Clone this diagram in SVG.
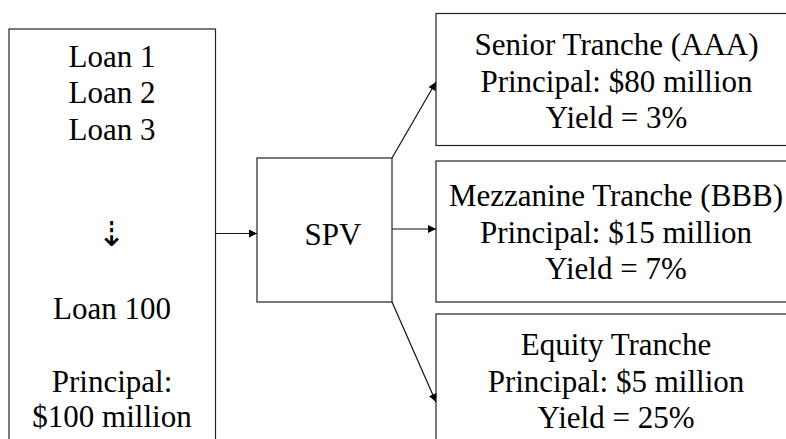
<svg xmlns="http://www.w3.org/2000/svg" width="786" height="439" viewBox="0 0 786 439">
  <defs>
    <marker id="ah" viewBox="0 0 10 10" refX="10" refY="5" markerWidth="10" markerHeight="8" markerUnits="userSpaceOnUse" orient="auto">
      <path d="M0,0 L10,5 L0,10 Z" fill="#000"/>
    </marker>
  </defs>
  <style>
    .box { fill: #fff; stroke: #222; stroke-width: 1.2; }
    .t { font-size: 31px; fill: #000; text-anchor: middle; }
    .edge { stroke: #111; stroke-width: 1.2; fill: none; marker-end: url(#ah); }
  </style>
  <rect width="786" height="439" fill="#fff"/>
  <g font-family="Liberation Serif, DejaVu Serif, serif">
  <g id="loans">
    <rect class="box" x="9" y="29" width="206.5" height="430"/>
    <text class="t" x="112" y="66.5">Loan 1</text>
    <text class="t" x="112" y="103">Loan 2</text>
    <text class="t" x="112" y="139.5">Loan 3</text>
    <text x="111.5" y="246" font-family="DejaVu Sans, sans-serif" font-size="34" text-anchor="middle" fill="#000">⇣</text>
    <text class="t" x="112" y="319">Loan 100</text>
    <text class="t" x="112" y="391.5">Principal:</text>
    <text class="t" x="112" y="426.5">$100 million</text>
  </g>
  <g id="spv">
    <rect class="box" x="257" y="158" width="135" height="144"/>
    <text class="t" x="333" y="245" font-size="33">SPV</text>
  </g>
  <g id="senior">
    <rect class="box" x="436" y="13.5" width="370" height="132"/>
    <text class="t" x="616.5" y="55">Senior Tranche (AAA)</text>
    <text class="t" x="616.5" y="91.5">Principal: $80 million</text>
    <text class="t" x="616.5" y="127.5">Yield = 3%</text>
  </g>
  <g id="mezzanine">
    <rect class="box" x="436" y="161" width="370" height="141"/>
    <text class="t" x="616" y="206">Mezzanine Tranche (BBB)</text>
    <text class="t" x="616" y="242.5">Principal: $15 million</text>
    <text class="t" x="616" y="279">Yield = 7%</text>
  </g>
  <g id="equity">
    <rect class="box" x="436" y="314" width="370" height="150"/>
    <text class="t" x="616" y="355">Equity Tranche</text>
    <text class="t" x="616" y="391.5">Principal: $5 million</text>
    <text class="t" x="616" y="428">Yield = 25%</text>
  </g>
  </g>
  <g id="connectors">
    <line class="edge" x1="215.5" y1="233.5" x2="257" y2="233.5"/>
    <line class="edge" x1="392" y1="158" x2="436" y2="82"/>
    <line class="edge" x1="392" y1="229" x2="436" y2="229"/>
    <line class="edge" x1="392" y1="302" x2="436" y2="402"/>
  </g>
</svg>
